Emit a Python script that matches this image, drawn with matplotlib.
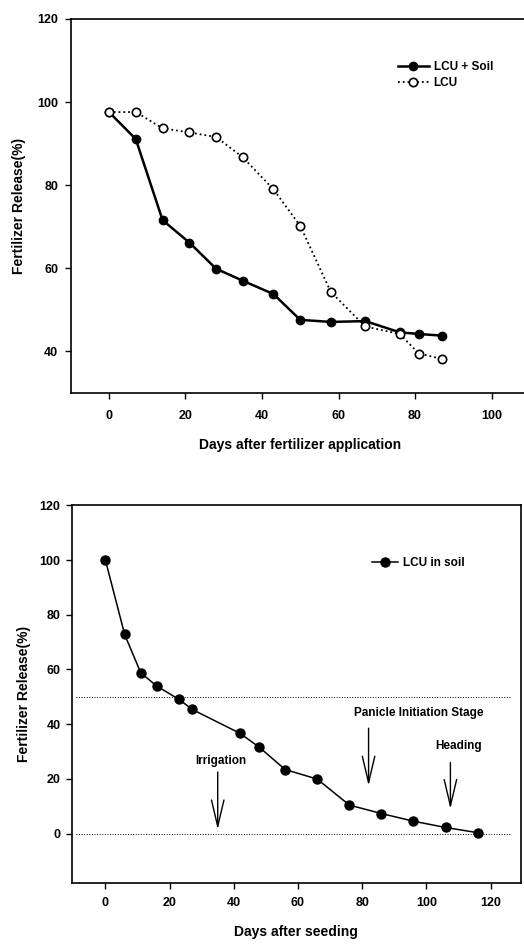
import matplotlib
matplotlib.use('Agg')
import matplotlib.pyplot as plt

plt.rcParams['font.family'] = ['Liberation Sans', 'DejaVu Sans']
plt.rcParams['font.weight'] = 'bold'
plt.rcParams['axes.labelweight'] = 'bold'

# --- data: top panel (days after fertilizer application) ---
days_app = [0, 7, 14, 21, 28, 35, 43, 50, 58, 67, 76, 81, 87]
lcu_soil = [97.6, 91.1, 71.6, 66.2, 59.9, 57.0, 53.8, 47.6, 47.1, 47.3, 44.6, 44.2, 43.8]
lcu = [97.6, 97.6, 93.7, 92.7, 91.6, 86.7, 79.0, 70.2, 54.3, 46.0, 44.2, 39.5, 38.2]
top_xticks = [0, 20, 40, 60, 80, 100]
top_yticks = [40, 60, 80, 100, 120]

# --- data: bottom panel (days after seeding) ---
days_seed = [0, 6, 11, 16, 23, 27, 42, 48, 56, 66, 76, 86, 96, 106, 116]
lcu_in_soil = [100, 72.8, 58.8, 53.9, 49.0, 45.4, 36.6, 31.5, 23.4, 19.9, 10.4, 7.3, 4.5, 2.2, 0.3]
bot_xticks = [0, 20, 40, 60, 80, 100, 120]
bot_yticks = [0, 20, 40, 60, 80, 100, 120]
guide_levels = [50, 0]

# stage labels: (text, arrow x, arrow top, arrow tip, label x, label y)
stages = [
    ('Irrigation', 35, 22.5, 1.5, 36, 26.5),
    ('Panicle Initiation Stage', 82, 38.5, 17.5, 97.5, 44.2),
    ('Heading', 107.5, 26.0, 9.0, 110, 32.0),
]

fig = plt.figure(figsize=(5.24, 9.44), dpi=100)

tick_kw = dict(direction='out', length=4, width=1, labelsize=9)

# --- Top panel ---
ax1 = fig.add_axes([0.135, 0.5837, 0.876, 0.3962])
ax1.plot(days_app, lcu_soil, '-o', color='black', lw=1.8, ms=6,
         label='LCU + Soil')
ax1.plot(days_app, lcu, ':o', color='black', lw=1.3, ms=6,
         mfc='white', mew=1.2, label='LCU')
ax1.set_xlim(-10, 110)
ax1.set_ylim(30, 120)
ax1.set_xticks(top_xticks)
ax1.set_yticks(top_yticks)
ax1.tick_params(axis='x', pad=8, **tick_kw)
ax1.tick_params(axis='y', pad=5, **tick_kw)
ax1.set_xlabel('Days after fertilizer application', fontsize=10, labelpad=12)
ax1.set_ylabel('Fertilizer Release(%)', fontsize=10, labelpad=8)
ax1.legend(loc='center left', bbox_to_anchor=(0.69, 0.85), frameon=False,
           fontsize=8.5, handlelength=2.6, numpoints=1, labelspacing=0.3,
           handletextpad=0.4)
for s in ax1.spines.values():
    s.set_linewidth(1.2)

# --- Bottom panel ---
ax2 = fig.add_axes([0.1368, 0.0649, 0.8575, 0.3998])
ax2.hlines(guide_levels, -9, 126, colors='black', linestyles=':', lw=0.7)
ax2.plot(days_seed, lcu_in_soil, '-o', color='black', lw=1.1, ms=6.5,
         label='LCU in soil')
ax2.set_xlim(-10.5, 129.5)
ax2.set_ylim(-18, 120)
ax2.set_xticks(bot_xticks)
ax2.set_yticks(bot_yticks)
ax2.tick_params(axis='x', pad=6, **tick_kw)
ax2.tick_params(axis='y', pad=4, **tick_kw)
ax2.set_xlabel('Days after seeding', fontsize=10, labelpad=12)
ax2.set_ylabel('Fertilizer Release(%)', fontsize=10, labelpad=6)
ax2.legend(loc='center left', bbox_to_anchor=(0.645, 0.847), frameon=False,
           fontsize=8.5, handlelength=2.2, numpoints=1, handletextpad=0.4)
for s in ax2.spines.values():
    s.set_linewidth(1.2)

for name, x, y_top, y_tip, tx, ty in stages:
    ax2.annotate('', xy=(x, y_tip), xytext=(x, y_top),
                 arrowprops=dict(arrowstyle='->,head_length=1.9,head_width=0.45',
                                 color='black', lw=1.0, mutation_scale=10,
                                 shrinkA=0, shrinkB=0))
    ax2.text(tx, ty, name, ha='center', va='center', fontsize=8.5)

fig.savefig('out.png', dpi=100)
